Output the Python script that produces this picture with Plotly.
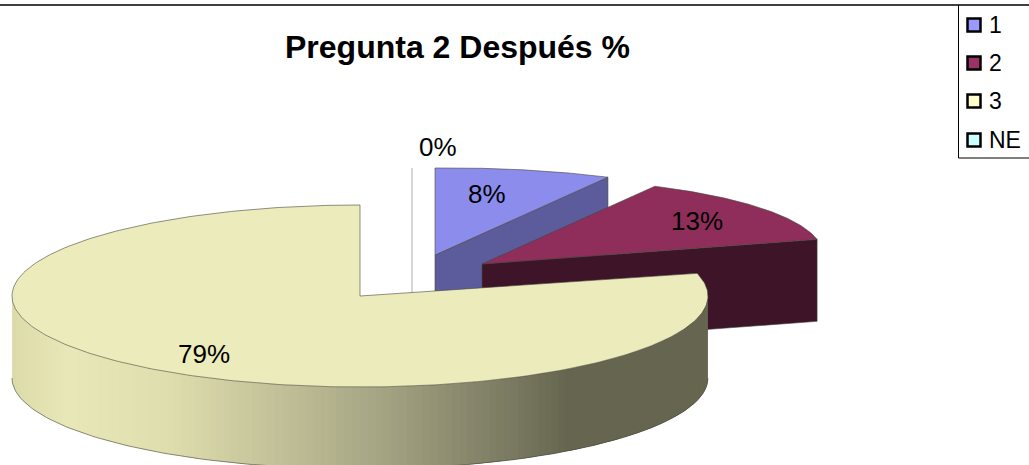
import numpy as np
import plotly.graph_objects as go

# ---- data ----
categories = ["1", "2", "3", "NE"]
percent_values = [8, 13, 79, 0]
legend_colors = ["#9999ff", "#993366", "#ffffcc", "#ccffff"]
title_text = "Pregunta 2 Después %"

# ---- styles / layout ----
W, H = 1029, 465
top_colors = ["#8c8cec", "#8f2d5b", "#ecebbb", "#ffffff"]
side_colors = ["#5c5c9c", "#3d1428", "#66664f", "#c8c8c8"]
centers = [(435, 255), (482, 264), (360, 296), (412, 255)]
DEPTH = 82
rim_stops = [(12, "#dcdbaa"), (70, "#e9e8b8"), (170, "#dfdeae"), (370, "#a9a886"),
             (480, "#85846a"), (570, "#666650"), (708, "#666650")]
label_pos = [(487, 194), (697, 221), (204, 354), (438, 147)]
EDGE = "rgba(70,70,60,0.75)"

fractions = np.array(percent_values, dtype=float) / sum(percent_values)
bounds = np.concatenate([[0], np.cumsum(fractions)]) * 2 * np.pi


def project(i, theta):
    cx, cy = centers[i]
    theta = np.asarray(theta, dtype=float)
    if i == 2:
        return cx + 348 * np.sin(theta), cy - 91 * np.cos(theta)
    # exploded rear slices have a slight perspective stretch and tilt
    x = cx + 346 * np.sin(theta) * (1 + 0.06 * (np.cos(theta) - 0.25))
    y = cy - 87 * np.cos(theta) - 0.009 * (x - cx)
    return x, y


def wedge(i, n=160):
    t = np.linspace(bounds[i], bounds[i + 1], n)
    x, y = project(i, t)
    return np.r_[centers[i][0], x, centers[i][0]], np.r_[centers[i][1], y, centers[i][1]]


def rgb(h):
    return [int(h[k:k + 2], 16) for k in (1, 3, 5)]


def rim_color(x):
    xs = [s[0] for s in rim_stops]
    c = [np.interp(x, xs, [rgb(s[1])[k] for s in rim_stops]) for k in range(3)]
    return "rgb(%d,%d,%d)" % tuple(c)


fig = go.Figure()


def poly(x, y, fill, line=EDGE, width=0.8):
    fig.add_trace(go.Scatter(x=list(x), y=list(y), mode="lines", fill="toself", fillcolor=fill,
                             line=dict(color=line, width=width), hoverinfo="skip", showlegend=False))


# zero-size NE slice: only its edge remains
x, y = wedge(3, 2)
fig.add_trace(go.Scatter(x=[centers[3][0]] * 2, y=[y.min(), y.max() + DEPTH], mode="lines",
                         line=dict(color=side_colors[3], width=1.5), hoverinfo="skip", showlegend=False))

# slices 1 and 2: cut face, then top
for i in (0, 1):
    a = bounds[i + 1]
    ex, ey = project(i, a)
    cx, cy = centers[i]
    poly([cx, ex, ex, cx, cx], [cy, ey, ey + DEPTH, cy + DEPTH, cy], side_colors[i])
    x, y = wedge(i)
    poly(x, y, top_colors[i])

# slice 3: outer rim with a right-to-left shading; each strip overlaps the next to avoid seams
t = np.linspace(np.pi / 2, 3 * np.pi / 2, 141)
rx, ry = project(2, t)
for k in range(len(t) - 1):
    j = min(k + 2, len(t) - 1)
    c = rim_color((rx[k] + rx[k + 1]) / 2)
    seg_x = list(rx[k:j + 1]) + list(rx[k:j + 1][::-1]) + [rx[k]]
    seg_y = list(ry[k:j + 1]) + list((ry[k:j + 1] + DEPTH)[::-1]) + [ry[k]]
    fig.add_trace(go.Scatter(x=seg_x, y=seg_y, mode="none", fill="toself", fillcolor=c,
                             hoverinfo="skip", showlegend=False))
fig.add_trace(go.Scatter(x=list(rx), y=list(ry + DEPTH), mode="lines", line=dict(color=EDGE, width=0.8),
                         hoverinfo="skip", showlegend=False))
x, y = wedge(2, 300)
poly(x, y, top_colors[2])

# legend drawn inside its box
leg_y = [25, 63, 101, 140]
fig.add_trace(go.Scatter(x=[974] * 4, y=leg_y, mode="markers",
                         marker=dict(symbol="square", size=13, color=legend_colors,
                                     line=dict(color="black", width=2.5)),
                         hoverinfo="skip", showlegend=False, cliponaxis=False))

annotations = [dict(x=px, y=py, text=f"{v}%", showarrow=False, xanchor="center", yanchor="middle",
                    font=dict(family="Liberation Sans", size=26, color="black"))
               for v, (px, py) in zip(percent_values, label_pos)]
annotations += [dict(x=989, y=ly, text=cat, showarrow=False, xanchor="left", yanchor="middle", xshift=-2,
                     font=dict(family="Liberation Sans", size=23, color="black"))
                for cat, ly in zip(categories, leg_y)]
annotations.append(dict(x=457, y=47, text=f"<b>{title_text}</b>", showarrow=False, xanchor="center",
                        yanchor="middle", font=dict(family="Liberation Sans", size=32, color="black")))

shapes = [
    dict(type="line", x0=0, x1=W, y0=5, y1=5, line=dict(color="black", width=1.5)),
    dict(type="line", x0=958.5, x1=958.5, y0=5, y1=158, line=dict(color="black", width=1)),
    dict(type="line", x0=958.5, x1=W, y0=158, y1=158, line=dict(color="black", width=1)),
]

fig.update_layout(
    width=W, height=H, margin=dict(l=0, r=0, t=0, b=0), paper_bgcolor="white", plot_bgcolor="white",
    xaxis=dict(range=[0, W], visible=False, fixedrange=True),
    yaxis=dict(range=[H, 0], visible=False, fixedrange=True),
    annotations=annotations, shapes=shapes, showlegend=False,
)
fig.write_html("out.html", config=dict(displayModeBar=False),
               post_script="document.body.style.margin='0';document.body.style.overflow='hidden';")
